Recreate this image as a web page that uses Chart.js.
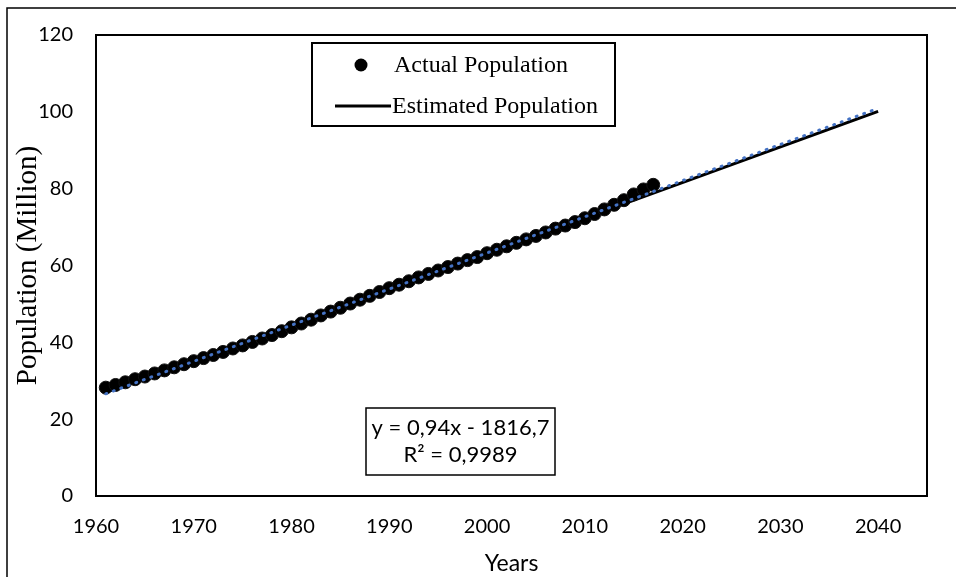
<!DOCTYPE html>
<html>
<head>
<meta charset="utf-8">
<script src="https://cdn.jsdelivr.net/npm/chart.js@4/dist/chart.umd.min.js"></script>
<style>
  html, body { margin: 0; padding: 0; background: #fff; }
  #wrap { position: relative; width: 956px; height: 577px; }
</style>
</head>
<body>
<div id="wrap"><canvas id="pop-chart"></canvas></div>
<script>
// Population series (million)
const years = [1961, 1962, 1963, 1964, 1965, 1966, 1967, 1968, 1969, 1970,
  1971, 1972, 1973, 1974, 1975, 1976, 1977, 1978, 1979, 1980,
  1981, 1982, 1983, 1984, 1985, 1986, 1987, 1988, 1989, 1990,
  1991, 1992, 1993, 1994, 1995, 1996, 1997, 1998, 1999, 2000,
  2001, 2002, 2003, 2004, 2005, 2006, 2007, 2008, 2009, 2010,
  2011, 2012, 2013, 2014, 2015, 2016, 2017];
const actualPop = [28.2, 28.9, 29.6, 30.4, 31.1, 31.9, 32.7, 33.5, 34.3, 35.1,
  35.9, 36.7, 37.5, 38.4, 39.2, 40.1, 41.0, 41.9, 42.9, 43.9,
  44.9, 45.9, 47.0, 48.0, 49.0, 50.1, 51.1, 52.1, 53.1, 54.1,
  55.0, 55.9, 56.9, 57.8, 58.7, 59.6, 60.5, 61.4, 62.2, 63.2,
  64.1, 65.0, 65.9, 66.8, 67.7, 68.6, 69.6, 70.4, 71.3, 72.3,
  73.4, 74.6, 75.8, 77.0, 78.5, 79.8, 81.0];

// Estimated population (straight line)
const estYears = [1961, 2040];
const estPop = [27.0, 100.1];

// Linear trend of the actual series, extended forward
const trendYears = [1961, 2040];
const trendPop = [26.6, 100.9];

const eqLines = ['y = 0,94x - 1816,7', 'R² = 0,9989'];

const toPoints = (xs, ys) => xs.map((x, i) => ({ x, y: ys[i] }));

const SANS = 'Lato, "Open Sans", sans-serif';
const SERIF = '"Liberation Serif", "Times New Roman", serif';

// outer frame, plot box, legend box, equation box
const decorPlugin = {
  id: 'decor',
  beforeDraw(chart) {
    const ctx = chart.ctx;
    ctx.save();
    ctx.fillStyle = '#fff';
    ctx.fillRect(0, 0, chart.width, chart.height);
    ctx.strokeStyle = '#000';
    ctx.lineWidth = 1.5;
    ctx.beginPath();
    ctx.moveTo(7, chart.height);
    ctx.lineTo(7, 8);
    ctx.lineTo(chart.width, 8);
    ctx.stroke();
    ctx.restore();
  },
  afterDraw(chart) {
    const ctx = chart.ctx;
    const a = chart.chartArea;
    ctx.save();
    ctx.strokeStyle = '#000';
    ctx.lineWidth = 2;
    ctx.strokeRect(a.left, a.top, a.right - a.left, a.bottom - a.top);

    // legend
    const ds = chart.data.datasets;
    const act = ds.find(d => d.label === 'Actual Population');
    const est = ds.find(d => d.label === 'Estimated Population');
    ctx.fillStyle = '#fff';
    ctx.fillRect(312, 43, 303, 83);
    ctx.lineWidth = 2;
    ctx.strokeRect(312, 43, 303, 83);
    ctx.fillStyle = act.backgroundColor;
    ctx.beginPath();
    ctx.arc(361, 65, 6.5, 0, Math.PI * 2);
    ctx.fill();
    ctx.strokeStyle = est.borderColor;
    ctx.lineWidth = est.borderWidth;
    ctx.beginPath();
    ctx.moveTo(335, 106);
    ctx.lineTo(391, 106);
    ctx.stroke();
    ctx.fillStyle = '#000';
    ctx.font = '24px ' + SERIF;
    ctx.textBaseline = 'middle';
    ctx.textAlign = 'left';
    ctx.fillText(act.label, 394, 66);
    ctx.fillText(est.label, 392, 107);

    // trend equation
    ctx.fillStyle = '#fff';
    ctx.fillRect(366, 408, 189, 67);
    ctx.strokeStyle = '#000';
    ctx.lineWidth = 1.5;
    ctx.strokeRect(366, 408, 189, 67);
    ctx.fillStyle = '#000';
    ctx.font = '22px ' + SANS;
    ctx.textAlign = 'center';
    ctx.fillText(eqLines[0], 460.5, 428);
    ctx.fillText(eqLines[1], 460.5, 455);
    ctx.restore();
  }
};

new Chart(document.getElementById('pop-chart'), {
  type: 'scatter',
  data: {
    datasets: [
      {
        label: 'Trend',
        data: toPoints(trendYears, trendPop),
        showLine: true,
        borderColor: '#4472C4',
        borderWidth: 3,
        borderDash: [1, 7],
        borderCapStyle: 'round',
        pointRadius: 0,
        order: 0
      },
      {
        label: 'Actual Population',
        data: toPoints(years, actualPop),
        showLine: false,
        backgroundColor: '#000',
        borderColor: '#111',
        borderWidth: 1,
        pointRadius: 6.5,
        order: 1
      },
      {
        label: 'Estimated Population',
        data: toPoints(estYears, estPop),
        showLine: true,
        borderColor: '#000',
        borderWidth: 3,
        pointRadius: 0,
        order: 2
      }
    ]
  },
  options: {
    responsive: true,
    maintainAspectRatio: false,
    devicePixelRatio: 1,
    animation: false,
    layout: { padding: { top: 23, right: 29, left: 0, bottom: 0 } },
    plugins: { legend: { display: false }, tooltip: { enabled: false } },
    scales: {
      x: {
        type: 'linear',
        min: 1960,
        max: 2045,
        grid: { display: false, drawTicks: false },
        border: { display: false },
        ticks: {
          stepSize: 10,
          includeBounds: false,
          padding: 19,
          color: '#000',
          font: { family: SANS, size: 20 },
          callback: v => String(v)
        },
        title: {
          display: true,
          text: 'Years',
          color: '#000',
          font: { family: SANS, size: 23 },
          padding: { top: 0, bottom: 0 }
        },
        afterFit: s => { s.height = 81; }
      },
      y: {
        min: 0,
        max: 120,
        grid: { display: false, drawTicks: false },
        border: { display: false },
        ticks: {
          stepSize: 20,
          padding: 23,
          color: '#000',
          font: { family: SANS, size: 20 }
        },
        title: {
          display: true,
          text: 'Population (Million)',
          color: '#000',
          font: { family: SERIF, size: 29 },
          padding: { top: 11, bottom: 0 }
        },
        afterFit: s => { s.width = 96; }
      }
    }
  },
  plugins: [decorPlugin]
});
</script>
</body>
</html>
